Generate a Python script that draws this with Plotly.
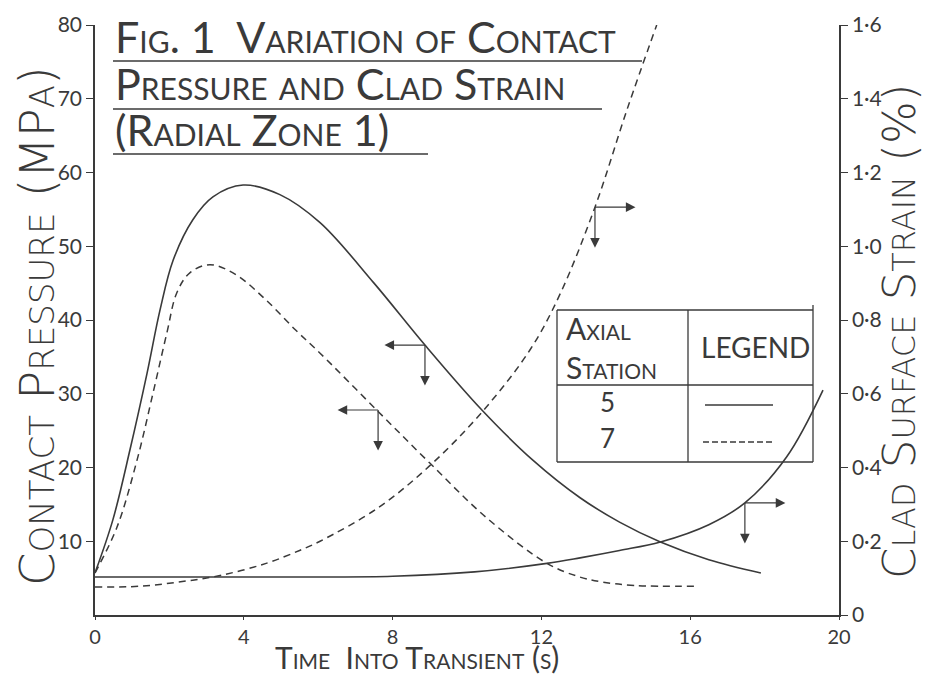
import plotly.graph_objects as go

# ---------------- data ----------------
time_p5 = [0, 0.48, 0.94, 1.4, 1.75, 2.1, 2.63, 3.17, 3.98, 4.97, 6.05, 7.5, 8.87,
           10.4, 11.77, 13.04, 14.1, 15.2, 16.5, 17.9]
pressure_p5 = [5.7, 12.9, 22.4, 32.8, 41.4, 48.1, 53.6, 56.7, 58.3, 57.0, 53.2, 45.0, 36.6,
               27.8, 21.0, 15.9, 12.6, 9.9, 7.5, 5.7]

time_p7 = [0, 0.59, 1.13, 1.56, 1.93, 2.2, 2.55, 3.09, 3.8, 4.6, 5.4, 6.05, 7.61,
           9.0, 10.5, 12.15, 13.0, 13.6, 14.5, 16.1]
pressure_p7 = [5.7, 11.9, 21.0, 30.1, 38.2, 43.7, 46.4, 47.5, 46.1, 42.7, 38.6, 35.5, 27.6,
               20.6, 13.3, 7.0, 5.2, 4.5, 4.0, 3.9]

time_s5 = [0, 2, 4, 6, 8, 10.2, 12.15, 13.04, 14.1, 15.2, 16.5, 17.47, 18.6, 19.57]
strain_s5 = [0.103, 0.103, 0.103, 0.103, 0.105, 0.117, 0.14, 0.155, 0.175, 0.198,
             0.245, 0.304, 0.43, 0.61]

time_s7 = [0, 1.2, 2.3, 3.4, 4.6, 5.5, 6.05, 7.6, 9.0, 10.4, 11.7, 12.5, 13.44, 14.3, 15.1]
strain_s7 = [0.076, 0.078, 0.09, 0.108, 0.14, 0.175, 0.20, 0.29, 0.405, 0.55, 0.72,
             0.87, 1.106, 1.37, 1.6]

x_ticks = [0, 4, 8, 12, 16, 20]
x_ticktext = ["0", "4", "8", "12", "16", "20"]
p_ticks = [10, 20, 30, 40, 50, 60, 70, 80]
p_ticktext = ["10", "20", "30", "40", "50", "60", "70", "80"]
s_ticks = [0, 0.2, 0.4, 0.6, 0.8, 1.0, 1.2, 1.4, 1.6]
s_ticktext = ["0", "0·2", "0·4", "0·6", "0·8", "1·0", "1·2", "1·4", "1·6"]

title_lines = ["Fig. 1  Variation of Contact", "Pressure and Clad Strain", "(Radial Zone 1)"]
legend_header = ["Axial<br>Station", "LEGEND"]
stations = ["5", "7"]

# arrow markers: (time, value, axis, horizontal direction)
arrow_marks = [(8.87, 36.6, "y", -1), (7.61, 27.8, "y", -1),
               (13.44, 1.106, "y2", 1), (17.47, 0.304, "y2", 1)]

# ---------------- layout helpers (screen pixels -> paper) ----------------
OFF = 8                      # page body margin
W, H = 933 - 2 * OFF, 683 - 2 * OFF
L, R, T, B = 95, 839, 25, 615   # plot area in screen pixels
def px(x):
    return (x - L) / (R - L)
def py(y):
    return (B - y) / (B - T)

INK = "#3a3a3a"
FONT = "Lato"
WIDE = "DejaVu Sans"

fig = go.Figure()
fig.add_trace(go.Scatter(x=time_p5, y=pressure_p5, mode="lines", line_shape="spline",
                         line=dict(color=INK, width=1.6), yaxis="y", showlegend=False))
fig.add_trace(go.Scatter(x=time_p7, y=pressure_p7, mode="lines", line_shape="spline",
                         line=dict(color=INK, width=1.5, dash="7px,5px"), yaxis="y", showlegend=False))
fig.add_trace(go.Scatter(x=time_s5, y=strain_s5, mode="lines", line_shape="spline",
                         line=dict(color=INK, width=1.6), yaxis="y2", showlegend=False))
fig.add_trace(go.Scatter(x=time_s7, y=strain_s7, mode="lines", line_shape="spline",
                         line=dict(color=INK, width=1.5, dash="7px,5px"), yaxis="y2", showlegend=False))

annotations = []
shapes = []

# axis-direction arrows
for t, v, ax_name, d in arrow_marks:
    annotations.append(dict(x=t, y=v, xref="x", yref=ax_name, text="", showarrow=True,
                            ax=d * 42, ay=0, arrowside="start", startarrowhead=2,
                            startarrowsize=1.6, arrowwidth=1.2, arrowcolor=INK))
    annotations.append(dict(x=t, y=v, xref="x", yref=ax_name, text="", showarrow=True,
                            ax=0, ay=42, arrowside="start", startarrowhead=2,
                            startarrowsize=1.6, arrowwidth=1.2, arrowcolor=INK))

# title block
title_y = [36, 83, 129]
underline_y = [61, 109, 154]
underline_x2 = [642, 602, 428]
for txt, ty, uy, ux in zip(title_lines, title_y, underline_y, underline_x2):
    annotations.append(dict(x=px(113), y=py(ty), xref="paper", yref="paper", text=txt,
                            showarrow=False, xanchor="left", yanchor="middle",
                            font=dict(family=FONT, size=43, color=INK, variant="small-caps")))
    shapes.append(dict(type="line", xref="paper", yref="paper", x0=px(113), x1=px(ux),
                       y0=py(uy), y1=py(uy), line=dict(color=INK, width=1.4)))

# axis titles
annotations.append(dict(x=px(37), y=py(326), xref="paper", yref="paper",
                        text="Contact Pressure (MPa)", textangle=-90, showarrow=False,
                        xanchor="center", yanchor="middle",
                        font=dict(family=WIDE, size=48, color=INK, weight=200, variant="small-caps")))
annotations.append(dict(x=px(899), y=py(332), xref="paper", yref="paper",
                        text="Clad Surface Strain (%)", textangle=-90, showarrow=False,
                        xanchor="center", yanchor="middle",
                        font=dict(family=WIDE, size=45, color=INK, weight=200, variant="small-caps")))
annotations.append(dict(x=px(417), y=py(657), xref="paper", yref="paper",
                        text="Time  Into Transient (s)", showarrow=False,
                        xanchor="center", yanchor="middle",
                        font=dict(family=FONT, size=30, color=INK, variant="small-caps")))

# legend table
bx0, bx1, by0, by1, bxm, bym = 557, 813, 310, 462, 688, 385
for (x0, y0, x1, y1) in [(bx0, by0, bx1, by0), (bx0, by1, bx1, by1), (bx0, by0, bx0, by1),
                         (bx1, by0, bx1, by1), (bxm, by0, bxm, by1), (bx0, bym, bx1, bym),
                         (bx1, by0, bx1, by0 - 5)]:
    shapes.append(dict(type="line", xref="paper", yref="paper", x0=px(x0), x1=px(x1),
                       y0=py(y0), y1=py(y1), line=dict(color=INK, width=1.3)))
annotations.append(dict(x=px(564), y=py(347), xref="paper", yref="paper", text=legend_header[0],
                        showarrow=False, xanchor="left", yanchor="middle", align="left",
                        font=dict(family=FONT, size=30, color=INK, variant="small-caps")))
annotations.append(dict(x=px(755), y=py(347), xref="paper", yref="paper", text=legend_header[1],
                        showarrow=False, xanchor="center", yanchor="middle",
                        font=dict(family=FONT, size=28, color=INK)))
for s, yy in zip(stations, [402, 438]):
    annotations.append(dict(x=px(607), y=py(yy), xref="paper", yref="paper", text=s,
                            showarrow=False, xanchor="center", yanchor="middle",
                            font=dict(family=FONT, size=26, color=INK)))
shapes.append(dict(type="line", xref="paper", yref="paper", x0=px(705), x1=px(773),
                   y0=py(405), y1=py(405), line=dict(color=INK, width=1.3)))
shapes.append(dict(type="line", xref="paper", yref="paper", x0=px(703), x1=px(772),
                   y0=py(442), y1=py(442), line=dict(color=INK, width=1.3, dash="6px,3px")))

tickfont = dict(family=FONT, size=21, color=INK)
fig.update_layout(
    width=W, height=H,
    margin=dict(l=L - OFF, r=W - (R - OFF), t=T - OFF, b=H - (B - OFF), autoexpand=False),
    plot_bgcolor="white", paper_bgcolor="white",
    xaxis=dict(range=[0, 20], tickvals=x_ticks, ticktext=x_ticktext, showgrid=False,
               zeroline=False, showline=True, linecolor=INK, linewidth=1.5,
               ticks="outside", ticklen=3, tickcolor=INK, tickfont=dict(family=FONT, size=20, color=INK)),
    yaxis=dict(range=[0, 80], tickvals=p_ticks, ticktext=p_ticktext, showgrid=False,
               zeroline=False, showline=True, linecolor=INK, linewidth=1.5,
               ticks="outside", ticklen=7, tickcolor=INK, tickfont=tickfont),
    yaxis2=dict(range=[0, 1.6], tickvals=s_ticks, ticktext=s_ticktext, overlaying="y",
                side="right", showgrid=False, zeroline=False, showline=True, linecolor=INK,
                linewidth=1.5, ticks="outside", ticklen=7, tickcolor=INK, tickfont=tickfont),
    annotations=annotations, shapes=shapes, showlegend=False,
)

fig.write_html("out.html")
